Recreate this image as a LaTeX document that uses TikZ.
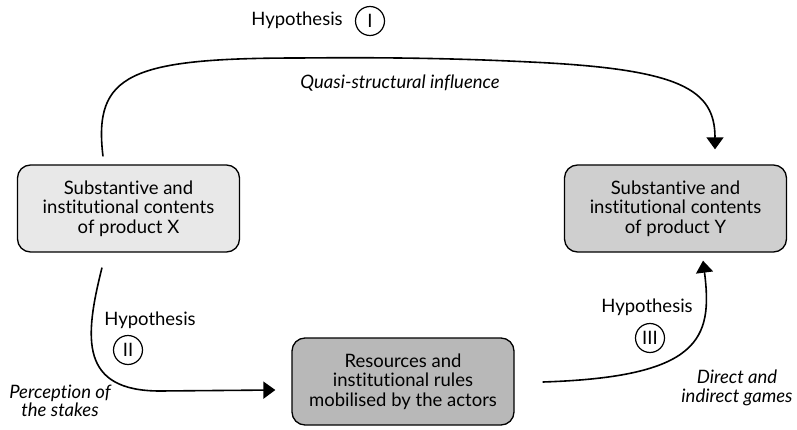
\documentclass[tikz,border=0pt]{standalone}
\usepackage{fontspec}
\setmainfont{Lato}[Ligatures=NoCommon]
\usetikzlibrary{arrows.meta,calc}
\begin{document}
\begin{tikzpicture}[x=1pt,y=1pt,
  every node/.style={font=\fontsize{18.5}{19.5}\selectfont},
  box/.style={draw, line width=1.3pt, rounded corners=13pt, align=center,
    minimum width=222pt, minimum height=87pt, inner sep=2pt},
  conn/.style={line width=1.6pt, -{Triangle[length=12pt,width=17pt]}},
  roman/.style={draw, circle, line width=1.2pt, minimum size=29pt, inner sep=0pt},
  lbl/.style={align=center, inner sep=0pt},
  note/.style={align=center, inner sep=0pt, font=\fontsize{18.5}{18.5}\selectfont\itshape}]
\useasboundingbox (0,0) rectangle (797,429);
\definecolor{boxx}{gray}{0.91}
\definecolor{boxy}{gray}{0.81}
\definecolor{boxr}{gray}{0.72}

% the three boxes
\node[box, fill=boxx] (bx) at (128.5,220.5) {Substantive and\\institutional contents\\of product X};
\node[box, fill=boxy] (by) at (675.5,220.5) {Substantive and\\institutional contents\\of product Y};
\node[box, fill=boxr] (br) at (403,47.5) {Resources and\\institutional rules\\mobilised by the actors};

% hypothesis labels
\node[lbl] (h1) at (297,409) {Hypothesis};
\node[roman] (c1) at (370,408) {I};
\node[lbl] (h2) at (150,109) {Hypothesis};
\node[roman] (c2) at (128,79) {II};
\node[lbl] (h3) at (647,122) {Hypothesis};
\node[roman] (c3) at (650,91) {III};

% arrow annotations
\node[note] (q) at (400,346) {Quasi-structural influence};
\node[note] (p) at (60,28) {Perception of\\the stakes};
\node[note] (d) at (737,41) {Direct and\\indirect games};

% connectors
\draw[conn] ($(bx.north)+(-25.5,8)$)
  .. controls (93,355) and (130,371) .. (300,371)
  .. controls (400,372) and (470,370) .. (530,367)
  .. controls (680,360) and (715,340) .. ($(by.north)+(39.5,15)$);
\draw[conn] ($(bx.south)+(-26.5,-15)$)
  .. controls (84,90) and (80,38) .. (160,38)
  -- ($(br.west)+(-16,-8.5)$);
\draw[conn] ($(br.east)+(28,-0.5)$)
  .. controls (700,52) and (713,90) .. ($(by.south)+(27.5,-8)$);
\end{tikzpicture}
\end{document}
